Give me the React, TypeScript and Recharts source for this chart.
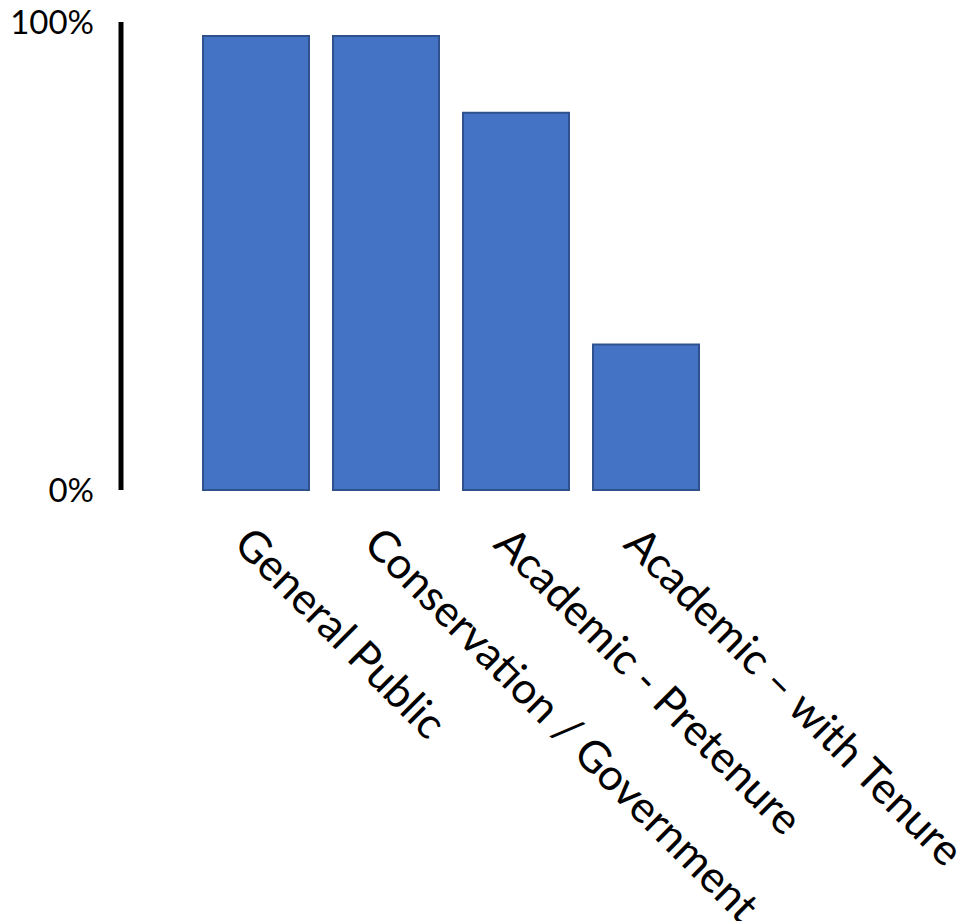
import { BarChart, Bar, XAxis, YAxis } from 'recharts';

const categories = [
  'General Public',
  'Conservation / Government',
  'Academic - Pretenure',
  'Academic \u2013 with Tenure',
];
const shares = [0.97, 0.97, 0.806, 0.311];
const yTicks = [0, 1];

const data = categories.map((name, i) => ({ name, value: shares[i] }));

const FONT = 'Lato, "Open Sans", sans-serif';

function CategoryTick({ x, y, payload }: any) {
  return (
    <g transform={`translate(${x - 24},${y + 48}) rotate(45)`}>
      <text x={0} y={0} textAnchor="start" fontFamily={FONT} fontSize={43.5} fill="#000">
        {payload.value}
      </text>
    </g>
  );
}

export default function App() {
  return (
    <div style={{ position: 'absolute', left: 0, top: 0, background: '#fff' }}>
      <BarChart
        width={971}
        height={921}
        data={data}
        margin={{ top: 22, right: 260, bottom: 0, left: 0 }}
      >
        <XAxis
          dataKey="name"
          height={431}
          axisLine={false}
          tickLine={false}
          padding={{ left: 70, right: 0 }}
          interval={0}
          tick={<CategoryTick />}
        />
        <YAxis
          width={121}
          domain={[0, 1]}
          ticks={yTicks}
          tickFormatter={(v: number) => `${Math.round(v * 100)}%`}
          axisLine={{ stroke: '#000', strokeWidth: 5 }}
          tickLine={false}
          tickSize={0}
          tickMargin={27}
          tick={{ fontFamily: FONT, fontSize: 33, fill: '#000' }}
        />
        <Bar
          dataKey="value"
          fill="#4472C4"
          stroke="#2F528F"
          strokeWidth={2}
          barSize={106}
          isAnimationActive={false}
        />
      </BarChart>
    </div>
  );
}
